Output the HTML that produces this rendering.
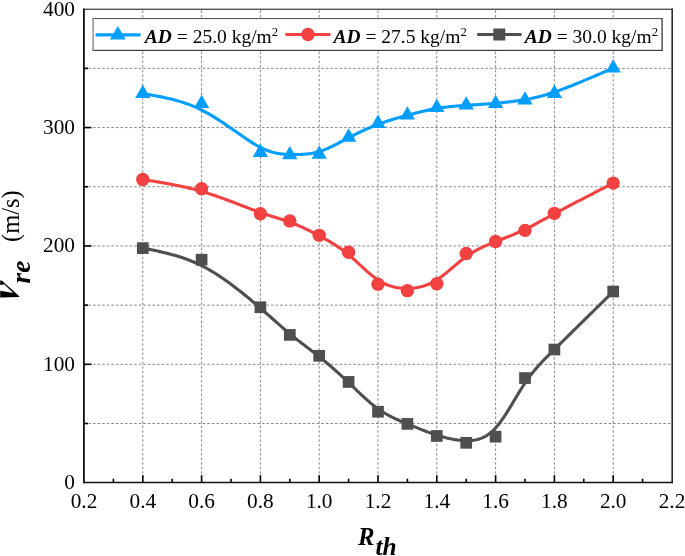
<!DOCTYPE html>
<html><head><meta charset="utf-8"><style>
html,body{margin:0;padding:0;background:#fff;}
body{width:685px;height:556px;overflow:hidden;}
svg{display:block;font-family:"Liberation Serif",serif;}
svg{will-change:transform;}
</style></head><body>
<svg width="685" height="556" viewBox="0 0 685 556">
<line x1="84.0" y1="423.51" x2="672.0" y2="423.51" stroke="#8a8a8a" stroke-width="1" stroke-dasharray="2.6 1.962"/>
<line x1="84.0" y1="364.32" x2="672.0" y2="364.32" stroke="#8a8a8a" stroke-width="1" stroke-dasharray="2.6 1.962"/>
<line x1="84.0" y1="305.13" x2="672.0" y2="305.13" stroke="#8a8a8a" stroke-width="1" stroke-dasharray="2.6 1.962"/>
<line x1="84.0" y1="245.94" x2="672.0" y2="245.94" stroke="#8a8a8a" stroke-width="1" stroke-dasharray="2.6 1.962"/>
<line x1="84.0" y1="186.75" x2="672.0" y2="186.75" stroke="#8a8a8a" stroke-width="1" stroke-dasharray="2.6 1.962"/>
<line x1="84.0" y1="127.56" x2="672.0" y2="127.56" stroke="#8a8a8a" stroke-width="1" stroke-dasharray="2.6 1.962"/>
<line x1="84.0" y1="68.37" x2="672.0" y2="68.37" stroke="#8a8a8a" stroke-width="1" stroke-dasharray="2.6 1.962"/>
<line x1="142.80" y1="9.2" x2="142.80" y2="482.7" stroke="#8a8a8a" stroke-width="1" stroke-dasharray="2.6 1.962" stroke-dashoffset="-1.2"/>
<line x1="201.60" y1="9.2" x2="201.60" y2="482.7" stroke="#8a8a8a" stroke-width="1" stroke-dasharray="2.6 1.962" stroke-dashoffset="-1.2"/>
<line x1="260.40" y1="9.2" x2="260.40" y2="482.7" stroke="#8a8a8a" stroke-width="1" stroke-dasharray="2.6 1.962" stroke-dashoffset="-1.2"/>
<line x1="319.20" y1="9.2" x2="319.20" y2="482.7" stroke="#8a8a8a" stroke-width="1" stroke-dasharray="2.6 1.962" stroke-dashoffset="-1.2"/>
<line x1="378.00" y1="9.2" x2="378.00" y2="482.7" stroke="#8a8a8a" stroke-width="1" stroke-dasharray="2.6 1.962" stroke-dashoffset="-1.2"/>
<line x1="436.80" y1="9.2" x2="436.80" y2="482.7" stroke="#8a8a8a" stroke-width="1" stroke-dasharray="2.6 1.962" stroke-dashoffset="-1.2"/>
<line x1="495.60" y1="9.2" x2="495.60" y2="482.7" stroke="#8a8a8a" stroke-width="1" stroke-dasharray="2.6 1.962" stroke-dashoffset="-1.2"/>
<line x1="554.40" y1="9.2" x2="554.40" y2="482.7" stroke="#8a8a8a" stroke-width="1" stroke-dasharray="2.6 1.962" stroke-dashoffset="-1.2"/>
<line x1="613.20" y1="9.2" x2="613.20" y2="482.7" stroke="#8a8a8a" stroke-width="1" stroke-dasharray="2.6 1.962" stroke-dashoffset="-1.2"/>
<line x1="84.0" y1="423.51" x2="88.0" y2="423.51" stroke="#000" stroke-width="1.6"/>
<line x1="84.0" y1="364.32" x2="91.5" y2="364.32" stroke="#000" stroke-width="1.6"/>
<line x1="84.0" y1="305.13" x2="88.0" y2="305.13" stroke="#000" stroke-width="1.6"/>
<line x1="84.0" y1="245.94" x2="91.5" y2="245.94" stroke="#000" stroke-width="1.6"/>
<line x1="84.0" y1="186.75" x2="88.0" y2="186.75" stroke="#000" stroke-width="1.6"/>
<line x1="84.0" y1="127.56" x2="91.5" y2="127.56" stroke="#000" stroke-width="1.6"/>
<line x1="84.0" y1="68.37" x2="88.0" y2="68.37" stroke="#000" stroke-width="1.6"/>
<line x1="113.40" y1="482.7" x2="113.40" y2="478.7" stroke="#000" stroke-width="1.6"/>
<line x1="142.80" y1="482.7" x2="142.80" y2="475.2" stroke="#000" stroke-width="1.6"/>
<line x1="172.20" y1="482.7" x2="172.20" y2="478.7" stroke="#000" stroke-width="1.6"/>
<line x1="201.60" y1="482.7" x2="201.60" y2="475.2" stroke="#000" stroke-width="1.6"/>
<line x1="231.00" y1="482.7" x2="231.00" y2="478.7" stroke="#000" stroke-width="1.6"/>
<line x1="260.40" y1="482.7" x2="260.40" y2="475.2" stroke="#000" stroke-width="1.6"/>
<line x1="289.80" y1="482.7" x2="289.80" y2="478.7" stroke="#000" stroke-width="1.6"/>
<line x1="319.20" y1="482.7" x2="319.20" y2="475.2" stroke="#000" stroke-width="1.6"/>
<line x1="348.60" y1="482.7" x2="348.60" y2="478.7" stroke="#000" stroke-width="1.6"/>
<line x1="378.00" y1="482.7" x2="378.00" y2="475.2" stroke="#000" stroke-width="1.6"/>
<line x1="407.40" y1="482.7" x2="407.40" y2="478.7" stroke="#000" stroke-width="1.6"/>
<line x1="436.80" y1="482.7" x2="436.80" y2="475.2" stroke="#000" stroke-width="1.6"/>
<line x1="466.20" y1="482.7" x2="466.20" y2="478.7" stroke="#000" stroke-width="1.6"/>
<line x1="495.60" y1="482.7" x2="495.60" y2="475.2" stroke="#000" stroke-width="1.6"/>
<line x1="525.00" y1="482.7" x2="525.00" y2="478.7" stroke="#000" stroke-width="1.6"/>
<line x1="554.40" y1="482.7" x2="554.40" y2="475.2" stroke="#000" stroke-width="1.6"/>
<line x1="583.80" y1="482.7" x2="583.80" y2="478.7" stroke="#000" stroke-width="1.6"/>
<line x1="613.20" y1="482.7" x2="613.20" y2="475.2" stroke="#000" stroke-width="1.6"/>
<line x1="642.60" y1="482.7" x2="642.60" y2="478.7" stroke="#000" stroke-width="1.6"/>
<path d="M142.80,93.58 L145.25,93.99 L147.70,94.41 L150.15,94.83 L152.60,95.26 L155.05,95.71 L157.50,96.16 L159.95,96.64 L162.40,97.13 L164.85,97.65 L167.30,98.19 L169.75,98.76 L172.20,99.36 L174.65,99.99 L177.10,100.66 L179.55,101.37 L182.00,102.13 L184.45,102.92 L186.90,103.77 L189.35,104.67 L191.80,105.62 L194.25,106.62 L196.70,107.69 L199.15,108.82 L201.60,110.01 L204.05,111.27 L206.50,112.59 L208.94,113.97 L211.38,115.39 L213.81,116.86 L216.22,118.37 L218.63,119.90 L221.02,121.46 L223.39,123.04 L225.75,124.63 L228.08,126.23 L230.39,127.83 L232.67,129.42 L234.93,131.00 L237.15,132.55 L239.35,134.09 L241.51,135.59 L243.63,137.05 L245.72,138.48 L247.76,139.85 L249.77,141.16 L251.73,142.42 L253.64,143.60 L255.50,144.71 L257.31,145.74 L259.08,146.70 L260.79,147.58 L262.46,148.39 L264.09,149.13 L265.68,149.80 L267.23,150.42 L268.75,150.97 L270.23,151.47 L271.68,151.92 L273.10,152.31 L274.49,152.67 L275.85,152.97 L277.20,153.24 L278.52,153.47 L279.82,153.67 L281.10,153.84 L282.37,153.98 L283.63,154.10 L284.88,154.19 L286.12,154.27 L287.35,154.33 L288.57,154.38 L289.80,154.43 L291.02,154.46 L292.25,154.49 L293.47,154.52 L294.70,154.53 L295.93,154.54 L297.15,154.53 L298.38,154.52 L299.60,154.49 L300.82,154.45 L302.05,154.39 L303.27,154.32 L304.50,154.23 L305.73,154.13 L306.95,154.01 L308.18,153.87 L309.40,153.71 L310.62,153.53 L311.85,153.32 L313.08,153.10 L314.30,152.85 L315.52,152.57 L316.75,152.27 L317.97,151.94 L319.20,151.59 L320.43,151.21 L321.65,150.80 L322.88,150.36 L324.10,149.90 L325.32,149.41 L326.55,148.91 L327.78,148.38 L329.00,147.84 L330.23,147.28 L331.45,146.70 L332.68,146.11 L333.90,145.50 L335.13,144.89 L336.35,144.26 L337.58,143.63 L338.80,142.99 L340.03,142.34 L341.25,141.69 L342.48,141.03 L343.70,140.38 L344.93,139.73 L346.15,139.07 L347.38,138.42 L348.60,137.78 L349.83,137.14 L351.05,136.50 L352.27,135.88 L353.50,135.25 L354.73,134.64 L355.95,134.03 L357.18,133.43 L358.40,132.84 L359.62,132.25 L360.85,131.67 L362.07,131.10 L363.30,130.53 L364.53,129.97 L365.75,129.42 L366.98,128.88 L368.20,128.35 L369.43,127.82 L370.65,127.30 L371.88,126.79 L373.10,126.29 L374.33,125.80 L375.55,125.32 L376.78,124.84 L378.00,124.38 L379.23,123.92 L380.45,123.47 L381.67,123.04 L382.90,122.61 L384.13,122.18 L385.35,121.77 L386.57,121.36 L387.80,120.96 L389.03,120.57 L390.25,120.18 L391.48,119.80 L392.70,119.42 L393.93,119.05 L395.15,118.69 L396.38,118.33 L397.60,117.97 L398.82,117.62 L400.05,117.27 L401.28,116.93 L402.50,116.59 L403.73,116.25 L404.95,115.92 L406.18,115.58 L407.40,115.25 L408.63,114.92 L409.85,114.60 L411.08,114.27 L412.30,113.95 L413.53,113.63 L414.75,113.31 L415.97,113.00 L417.20,112.69 L418.43,112.38 L419.65,112.08 L420.88,111.79 L422.10,111.49 L423.33,111.21 L424.55,110.93 L425.77,110.65 L427.00,110.38 L428.22,110.12 L429.45,109.86 L430.68,109.61 L431.90,109.37 L433.12,109.13 L434.35,108.91 L435.58,108.69 L436.80,108.47 L438.03,108.27 L439.25,108.08 L440.48,107.89 L441.70,107.71 L442.93,107.54 L444.15,107.38 L445.38,107.22 L446.60,107.07 L447.82,106.93 L449.05,106.79 L450.28,106.66 L451.50,106.53 L452.72,106.41 L453.95,106.29 L455.18,106.18 L456.40,106.07 L457.62,105.97 L458.85,105.86 L460.08,105.77 L461.30,105.67 L462.52,105.58 L463.75,105.49 L464.97,105.41 L466.20,105.32 L467.43,105.24 L468.65,105.16 L469.87,105.08 L471.10,105.00 L472.32,104.92 L473.55,104.84 L474.78,104.76 L476.00,104.69 L477.23,104.61 L478.45,104.53 L479.68,104.45 L480.90,104.37 L482.12,104.29 L483.35,104.21 L484.57,104.13 L485.80,104.05 L487.03,103.96 L488.25,103.87 L489.48,103.78 L490.70,103.69 L491.92,103.60 L493.15,103.50 L494.38,103.40 L495.60,103.29 L496.83,103.18 L498.05,103.07 L499.27,102.96 L500.50,102.84 L501.73,102.72 L502.95,102.59 L504.18,102.46 L505.40,102.33 L506.62,102.19 L507.85,102.05 L509.08,101.90 L510.30,101.75 L511.53,101.59 L512.75,101.43 L513.98,101.27 L515.20,101.10 L516.43,100.92 L517.65,100.75 L518.88,100.56 L520.10,100.37 L521.33,100.18 L522.55,99.98 L523.77,99.78 L525.00,99.57 L526.23,99.35 L527.45,99.13 L528.68,98.90 L529.92,98.67 L531.17,98.42 L532.43,98.16 L533.70,97.89 L534.98,97.61 L536.28,97.31 L537.60,97.00 L538.95,96.66 L540.31,96.32 L541.70,95.95 L543.12,95.56 L544.57,95.16 L546.05,94.73 L547.57,94.27 L549.12,93.79 L550.71,93.29 L552.34,92.76 L554.01,92.20 L555.72,91.61 L557.49,91.00 L559.30,90.35 L561.24,89.64 L563.24,88.89 L565.29,88.11 L567.39,87.30 L569.53,86.47 L571.72,85.60 L573.95,84.71 L576.21,83.80 L578.51,82.86 L580.85,81.90 L583.22,80.92 L585.61,79.92 L588.04,78.90 L590.48,77.87 L592.95,76.83 L595.44,75.77 L597.95,74.70 L600.47,73.63 L603.00,72.54 L605.54,71.45 L608.09,70.36 L610.64,69.26 L613.20,68.16" fill="none" stroke="#009eff" stroke-width="3.1" stroke-linejoin="round" stroke-linecap="round"/>
<path d="M142.80,179.53 L145.25,179.92 L147.70,180.30 L150.15,180.69 L152.60,181.08 L155.05,181.48 L157.50,181.88 L159.95,182.29 L162.40,182.70 L164.85,183.13 L167.30,183.56 L169.75,184.01 L172.20,184.47 L174.65,184.94 L177.10,185.43 L179.55,185.93 L182.00,186.46 L184.45,186.99 L186.90,187.55 L189.35,188.13 L191.80,188.73 L194.25,189.36 L196.70,190.00 L199.15,190.68 L201.60,191.37 L204.05,192.10 L206.50,192.85 L208.94,193.62 L211.38,194.41 L213.81,195.22 L216.22,196.05 L218.63,196.89 L221.02,197.74 L223.39,198.59 L225.75,199.45 L228.08,200.32 L230.39,201.18 L232.67,202.05 L234.93,202.91 L237.15,203.76 L239.35,204.61 L241.51,205.44 L243.63,206.26 L245.72,207.06 L247.76,207.84 L249.77,208.61 L251.73,209.35 L253.64,210.06 L255.50,210.74 L257.31,211.40 L259.08,212.02 L260.79,212.62 L262.46,213.20 L264.09,213.75 L265.68,214.27 L267.23,214.78 L268.75,215.27 L270.23,215.75 L271.68,216.20 L273.10,216.65 L274.49,217.09 L275.85,217.51 L277.20,217.93 L278.52,218.34 L279.82,218.75 L281.10,219.16 L282.37,219.57 L283.63,219.98 L284.88,220.39 L286.12,220.81 L287.35,221.23 L288.57,221.67 L289.80,222.11 L291.02,222.57 L292.25,223.04 L293.47,223.52 L294.70,224.01 L295.93,224.52 L297.15,225.03 L298.38,225.56 L299.60,226.09 L300.82,226.64 L302.05,227.19 L303.27,227.75 L304.50,228.33 L305.73,228.91 L306.95,229.49 L308.18,230.09 L309.40,230.69 L310.62,231.31 L311.85,231.92 L313.08,232.55 L314.30,233.18 L315.52,233.81 L316.75,234.45 L317.97,235.10 L319.20,235.75 L320.43,236.40 L321.65,237.06 L322.88,237.73 L324.10,238.40 L325.32,239.09 L326.55,239.78 L327.78,240.48 L329.00,241.19 L330.23,241.91 L331.45,242.64 L332.68,243.39 L333.90,244.15 L335.13,244.93 L336.35,245.72 L337.58,246.54 L338.80,247.36 L340.03,248.21 L341.25,249.08 L342.48,249.97 L343.70,250.87 L344.93,251.81 L346.15,252.76 L347.38,253.74 L348.60,254.75 L349.83,255.78 L351.05,256.83 L352.27,257.90 L353.50,258.99 L354.73,260.10 L355.95,261.21 L357.18,262.34 L358.40,263.47 L359.62,264.60 L360.85,265.73 L362.07,266.86 L363.30,267.99 L364.53,269.10 L365.75,270.20 L366.98,271.29 L368.20,272.36 L369.43,273.41 L370.65,274.44 L371.88,275.43 L373.10,276.40 L374.33,277.34 L375.55,278.24 L376.78,279.11 L378.00,279.93 L379.23,280.71 L380.45,281.44 L381.67,282.14 L382.90,282.79 L384.13,283.40 L385.35,283.97 L386.57,284.50 L387.80,284.99 L389.03,285.45 L390.25,285.87 L391.48,286.26 L392.70,286.61 L393.93,286.92 L395.15,287.21 L396.38,287.46 L397.60,287.68 L398.82,287.87 L400.05,288.03 L401.28,288.16 L402.50,288.26 L403.73,288.34 L404.95,288.39 L406.18,288.42 L407.40,288.42 L408.63,288.40 L409.85,288.35 L411.08,288.28 L412.30,288.19 L413.53,288.06 L414.75,287.92 L415.97,287.74 L417.20,287.53 L418.43,287.30 L419.65,287.04 L420.88,286.74 L422.10,286.42 L423.33,286.06 L424.55,285.67 L425.77,285.25 L427.00,284.79 L428.22,284.30 L429.45,283.77 L430.68,283.21 L431.90,282.61 L433.12,281.97 L434.35,281.30 L435.58,280.58 L436.80,279.83 L438.03,279.04 L439.25,278.21 L440.48,277.34 L441.70,276.45 L442.93,275.52 L444.15,274.57 L445.38,273.60 L446.60,272.61 L447.82,271.60 L449.05,270.58 L450.28,269.55 L451.50,268.51 L452.72,267.47 L453.95,266.42 L455.18,265.38 L456.40,264.34 L457.62,263.31 L458.85,262.29 L460.08,261.29 L461.30,260.29 L462.52,259.32 L463.75,258.38 L464.97,257.45 L466.20,256.56 L467.43,255.69 L468.65,254.86 L469.87,254.06 L471.10,253.28 L472.32,252.53 L473.55,251.80 L474.78,251.10 L476.00,250.42 L477.23,249.77 L478.45,249.13 L479.68,248.51 L480.90,247.91 L482.12,247.33 L483.35,246.76 L484.57,246.20 L485.80,245.66 L487.03,245.13 L488.25,244.61 L489.48,244.10 L490.70,243.60 L491.92,243.10 L493.15,242.61 L494.38,242.13 L495.60,241.64 L496.83,241.16 L498.05,240.68 L499.27,240.20 L500.50,239.72 L501.73,239.24 L502.95,238.76 L504.18,238.27 L505.40,237.79 L506.62,237.30 L507.85,236.81 L509.08,236.32 L510.30,235.82 L511.53,235.32 L512.75,234.82 L513.98,234.31 L515.20,233.79 L516.43,233.27 L517.65,232.74 L518.88,232.20 L520.10,231.65 L521.33,231.10 L522.55,230.54 L523.77,229.97 L525.00,229.38 L526.23,228.79 L527.45,228.19 L528.68,227.58 L529.92,226.95 L531.17,226.31 L532.43,225.66 L533.70,225.00 L534.98,224.32 L536.28,223.63 L537.60,222.92 L538.95,222.20 L540.31,221.46 L541.70,220.70 L543.12,219.93 L544.57,219.14 L546.05,218.33 L547.57,217.50 L549.12,216.65 L550.71,215.79 L552.34,214.90 L554.01,213.99 L555.72,213.06 L557.49,212.11 L559.30,211.14 L561.24,210.10 L563.24,209.03 L565.29,207.95 L567.39,206.84 L569.53,205.71 L571.72,204.56 L573.95,203.39 L576.21,202.21 L578.51,201.00 L580.85,199.79 L583.22,198.56 L585.61,197.31 L588.04,196.06 L590.48,194.79 L592.95,193.51 L595.44,192.23 L597.95,190.93 L600.47,189.64 L603.00,188.33 L605.54,187.02 L608.09,185.71 L610.64,184.39 L613.20,183.08" fill="none" stroke="#f14141" stroke-width="3.1" stroke-linejoin="round" stroke-linecap="round"/>
<path d="M142.80,248.10 L145.25,248.59 L147.70,249.07 L150.15,249.56 L152.60,250.06 L155.05,250.57 L157.50,251.09 L159.95,251.63 L162.40,252.19 L164.85,252.77 L167.30,253.37 L169.75,253.99 L172.20,254.65 L174.65,255.33 L177.10,256.05 L179.55,256.81 L182.00,257.60 L184.45,258.44 L186.90,259.32 L189.35,260.25 L191.80,261.23 L194.25,262.26 L196.70,263.34 L199.15,264.48 L201.60,265.68 L204.05,266.94 L206.50,268.26 L208.94,269.64 L211.38,271.06 L213.81,272.54 L216.22,274.05 L218.63,275.60 L221.02,277.19 L223.39,278.80 L225.75,280.44 L228.08,282.11 L230.39,283.79 L232.67,285.49 L234.93,287.19 L237.15,288.90 L239.35,290.62 L241.51,292.33 L243.63,294.03 L245.72,295.73 L247.76,297.41 L249.77,299.07 L251.73,300.71 L253.64,302.33 L255.50,303.91 L257.31,305.46 L259.08,306.97 L260.79,308.46 L262.46,309.91 L264.09,311.33 L265.68,312.72 L267.23,314.08 L268.75,315.42 L270.23,316.73 L271.68,318.01 L273.10,319.27 L274.49,320.50 L275.85,321.71 L277.20,322.90 L278.52,324.06 L279.82,325.21 L281.10,326.33 L282.37,327.44 L283.63,328.53 L284.88,329.61 L286.12,330.67 L287.35,331.71 L288.57,332.74 L289.80,333.76 L291.02,334.77 L292.25,335.76 L293.47,336.75 L294.70,337.73 L295.93,338.70 L297.15,339.66 L298.38,340.61 L299.60,341.56 L300.82,342.50 L302.05,343.44 L303.27,344.38 L304.50,345.32 L305.73,346.25 L306.95,347.18 L308.18,348.12 L309.40,349.05 L310.62,349.99 L311.85,350.93 L313.08,351.87 L314.30,352.82 L315.52,353.77 L316.75,354.74 L317.97,355.70 L319.20,356.68 L320.43,357.66 L321.65,358.66 L322.88,359.66 L324.10,360.67 L325.32,361.69 L326.55,362.72 L327.78,363.76 L329.00,364.80 L330.23,365.85 L331.45,366.92 L332.68,367.98 L333.90,369.06 L335.13,370.15 L336.35,371.24 L337.58,372.34 L338.80,373.44 L340.03,374.56 L341.25,375.68 L342.48,376.81 L343.70,377.94 L344.93,379.09 L346.15,380.23 L347.38,381.39 L348.60,382.55 L349.83,383.72 L351.05,384.89 L352.27,386.07 L353.50,387.25 L354.73,388.42 L355.95,389.60 L357.18,390.78 L358.40,391.94 L359.62,393.11 L360.85,394.26 L362.07,395.41 L363.30,396.55 L364.53,397.67 L365.75,398.78 L366.98,399.88 L368.20,400.96 L369.43,402.02 L370.65,403.06 L371.88,404.08 L373.10,405.07 L374.33,406.04 L375.55,406.99 L376.78,407.91 L378.00,408.80 L379.23,409.66 L380.45,410.49 L381.67,411.29 L382.90,412.07 L384.13,412.81 L385.35,413.54 L386.57,414.24 L387.80,414.92 L389.03,415.58 L390.25,416.22 L391.48,416.85 L392.70,417.45 L393.93,418.05 L395.15,418.62 L396.38,419.19 L397.60,419.74 L398.82,420.28 L400.05,420.81 L401.28,421.34 L402.50,421.86 L403.73,422.37 L404.95,422.88 L406.18,423.39 L407.40,423.89 L408.63,424.40 L409.85,424.90 L411.08,425.41 L412.30,425.91 L413.53,426.41 L414.75,426.91 L415.97,427.40 L417.20,427.89 L418.43,428.38 L419.65,428.87 L420.88,429.35 L422.10,429.83 L423.33,430.31 L424.55,430.77 L425.77,431.24 L427.00,431.69 L428.22,432.15 L429.45,432.59 L430.68,433.03 L431.90,433.46 L433.12,433.88 L434.35,434.30 L435.58,434.71 L436.80,435.11 L438.03,435.49 L439.25,435.87 L440.48,436.24 L441.70,436.60 L442.93,436.95 L444.15,437.29 L445.38,437.61 L446.60,437.92 L447.82,438.22 L449.05,438.50 L450.28,438.77 L451.50,439.02 L452.72,439.26 L453.95,439.48 L455.18,439.68 L456.40,439.87 L457.62,440.04 L458.85,440.19 L460.08,440.32 L461.30,440.43 L462.52,440.52 L463.75,440.59 L464.97,440.64 L466.20,440.66 L467.43,440.66 L468.65,440.64 L469.87,440.59 L471.10,440.51 L472.32,440.39 L473.55,440.24 L474.78,440.05 L476.00,439.81 L477.23,439.53 L478.45,439.20 L479.68,438.82 L480.90,438.39 L482.12,437.90 L483.35,437.35 L484.57,436.74 L485.80,436.06 L487.03,435.31 L488.25,434.49 L489.48,433.60 L490.70,432.63 L491.92,431.58 L493.15,430.45 L494.38,429.24 L495.60,427.93 L496.83,426.54 L498.05,425.06 L499.27,423.50 L500.50,421.87 L501.73,420.17 L502.95,418.41 L504.18,416.59 L505.40,414.73 L506.62,412.82 L507.85,410.87 L509.08,408.90 L510.30,406.89 L511.53,404.87 L512.75,402.84 L513.98,400.80 L515.20,398.75 L516.43,396.71 L517.65,394.68 L518.88,392.67 L520.10,390.68 L521.33,388.72 L522.55,386.79 L523.77,384.90 L525.00,383.06 L526.23,381.27 L527.45,379.53 L528.68,377.83 L529.92,376.18 L531.17,374.55 L532.43,372.96 L533.70,371.39 L534.98,369.85 L536.28,368.32 L537.60,366.81 L538.95,365.30 L540.31,363.80 L541.70,362.31 L543.12,360.80 L544.57,359.29 L546.05,357.77 L547.57,356.23 L549.12,354.67 L550.71,353.08 L552.34,351.47 L554.01,349.82 L555.72,348.13 L557.49,346.40 L559.30,344.62 L561.24,342.71 L563.24,340.75 L565.29,338.73 L567.39,336.67 L569.53,334.56 L571.72,332.41 L573.95,330.22 L576.21,327.99 L578.51,325.72 L580.85,323.42 L583.22,321.08 L585.61,318.72 L588.04,316.33 L590.48,313.92 L592.95,311.48 L595.44,309.02 L597.95,306.55 L600.47,304.06 L603.00,301.56 L605.54,299.06 L608.09,296.54 L610.64,294.02 L613.20,291.50" fill="none" stroke="#4f4f4f" stroke-width="3.1" stroke-linejoin="round" stroke-linecap="round"/>
<path d="M142.80,84.71 L150.45,98.01 L135.15,98.01 Z" fill="#009eff"/>
<path d="M201.60,94.64 L209.25,107.94 L193.95,107.94 Z" fill="#009eff"/>
<path d="M260.40,143.59 L268.05,156.89 L252.75,156.89 Z" fill="#009eff"/>
<path d="M289.80,146.07 L297.45,159.37 L282.15,159.37 Z" fill="#009eff"/>
<path d="M319.20,145.48 L326.85,158.78 L311.55,158.78 Z" fill="#009eff"/>
<path d="M348.60,128.34 L356.25,141.64 L340.95,141.64 Z" fill="#009eff"/>
<path d="M378.00,114.62 L385.65,127.92 L370.35,127.92 Z" fill="#009eff"/>
<path d="M407.40,106.23 L415.05,119.53 L399.75,119.53 Z" fill="#009eff"/>
<path d="M436.80,98.78 L444.45,112.08 L429.15,112.08 Z" fill="#009eff"/>
<path d="M466.20,96.30 L473.85,109.60 L458.55,109.60 Z" fill="#009eff"/>
<path d="M495.60,94.76 L503.25,108.06 L487.95,108.06 Z" fill="#009eff"/>
<path d="M525.00,91.21 L532.65,104.51 L517.35,104.51 Z" fill="#009eff"/>
<path d="M554.40,84.59 L562.05,97.89 L546.75,97.89 Z" fill="#009eff"/>
<path d="M613.20,59.29 L620.85,72.59 L605.55,72.59 Z" fill="#009eff"/>
<circle cx="142.80" cy="179.53" r="6.7" fill="#f14141"/>
<circle cx="201.60" cy="188.75" r="6.7" fill="#f14141"/>
<circle cx="260.40" cy="213.70" r="6.7" fill="#f14141"/>
<circle cx="289.80" cy="220.91" r="6.7" fill="#f14141"/>
<circle cx="319.20" cy="235.34" r="6.7" fill="#f14141"/>
<circle cx="348.60" cy="252.24" r="6.7" fill="#f14141"/>
<circle cx="378.00" cy="284.16" r="6.7" fill="#f14141"/>
<circle cx="407.40" cy="290.67" r="6.7" fill="#f14141"/>
<circle cx="436.80" cy="283.69" r="6.7" fill="#f14141"/>
<circle cx="466.20" cy="253.54" r="6.7" fill="#f14141"/>
<circle cx="495.60" cy="241.48" r="6.7" fill="#f14141"/>
<circle cx="525.00" cy="230.37" r="6.7" fill="#f14141"/>
<circle cx="554.40" cy="213.34" r="6.7" fill="#f14141"/>
<circle cx="613.20" cy="183.08" r="6.7" fill="#f14141"/>
<rect x="136.95" y="242.25" width="11.7" height="11.7" fill="#4f4f4f"/>
<rect x="195.75" y="253.84" width="11.7" height="11.7" fill="#4f4f4f"/>
<rect x="254.55" y="301.37" width="11.7" height="11.7" fill="#4f4f4f"/>
<rect x="283.95" y="329.04" width="11.7" height="11.7" fill="#4f4f4f"/>
<rect x="313.35" y="349.96" width="11.7" height="11.7" fill="#4f4f4f"/>
<rect x="342.75" y="376.09" width="11.7" height="11.7" fill="#4f4f4f"/>
<rect x="372.15" y="405.88" width="11.7" height="11.7" fill="#4f4f4f"/>
<rect x="401.55" y="418.06" width="11.7" height="11.7" fill="#4f4f4f"/>
<rect x="430.95" y="430.12" width="11.7" height="11.7" fill="#4f4f4f"/>
<rect x="460.35" y="436.98" width="11.7" height="11.7" fill="#4f4f4f"/>
<rect x="489.75" y="430.83" width="11.7" height="11.7" fill="#4f4f4f"/>
<rect x="519.15" y="372.19" width="11.7" height="11.7" fill="#4f4f4f"/>
<rect x="548.55" y="343.70" width="11.7" height="11.7" fill="#4f4f4f"/>
<rect x="607.35" y="285.65" width="11.7" height="11.7" fill="#4f4f4f"/>
<rect x="83.0" y="8.6" width="590.0" height="1.35" fill="#4c4c4c"/>
<rect x="83.0" y="8.6" width="1.8" height="474.6" fill="#111"/>
<rect x="671.4" y="8.6" width="1.6" height="474.6" fill="#2a2a2a"/>
<rect x="83.0" y="481.75" width="590.0" height="1.5" fill="#111"/>
<rect x="92.4" y="18.1" width="570.4" height="32.9" fill="#fff"/>
<rect x="92.4" y="18.1" width="570.4" height="1.0" fill="#4a4a4a"/>
<rect x="92.4" y="49.8" width="570.4" height="1.2" fill="#3c3c3c"/>
<rect x="92.4" y="18.1" width="1.4" height="32.9" fill="#8a8a8a"/>
<rect x="661.4" y="18.1" width="1.4" height="32.9" fill="#4a4a4a"/>
<line x1="95.6" y1="34.9" x2="140.6" y2="34.9" stroke="#009eff" stroke-width="3.1"/>
<path d="M117.80,25.90 L125.65,39.40 L109.95,39.40 Z" fill="#009eff"/>
<line x1="285.4" y1="34.5" x2="330.4" y2="34.5" stroke="#f14141" stroke-width="3.1"/>
<circle cx="308.00" cy="34.50" r="6.7" fill="#f14141"/>
<line x1="477.2" y1="34.5" x2="521.6" y2="34.5" stroke="#4f4f4f" stroke-width="3.1"/>
<rect x="493.30" y="28.50" width="12" height="12" fill="#4f4f4f"/>
<text x="144.8" y="42.6" font-size="19.5"><tspan font-weight="bold" font-style="italic">AD</tspan> = 25.0 kg/m<tspan font-size="12.7" dy="-7">2</tspan></text>
<text x="333.5" y="42.6" font-size="19.5"><tspan font-weight="bold" font-style="italic">AD</tspan> = 27.5 kg/m<tspan font-size="12.7" dy="-7">2</tspan></text>
<text x="524.7" y="42.6" font-size="19.5"><tspan font-weight="bold" font-style="italic">AD</tspan> = 30.0 kg/m<tspan font-size="12.7" dy="-7">2</tspan></text>
<text x="84.00" y="508.4" font-size="21.3" text-anchor="middle">0.2</text>
<text x="142.80" y="508.4" font-size="21.3" text-anchor="middle">0.4</text>
<text x="201.60" y="508.4" font-size="21.3" text-anchor="middle">0.6</text>
<text x="260.40" y="508.4" font-size="21.3" text-anchor="middle">0.8</text>
<text x="319.20" y="508.4" font-size="21.3" text-anchor="middle">1.0</text>
<text x="378.00" y="508.4" font-size="21.3" text-anchor="middle">1.2</text>
<text x="436.80" y="508.4" font-size="21.3" text-anchor="middle">1.4</text>
<text x="495.60" y="508.4" font-size="21.3" text-anchor="middle">1.6</text>
<text x="554.40" y="508.4" font-size="21.3" text-anchor="middle">1.8</text>
<text x="613.20" y="508.4" font-size="21.3" text-anchor="middle">2.0</text>
<text x="672.00" y="508.4" font-size="21.3" text-anchor="middle">2.2</text>
<text x="75" y="489.10" font-size="21.3" text-anchor="end">0</text>
<text x="75" y="370.72" font-size="21.3" text-anchor="end">100</text>
<text x="75" y="252.34" font-size="21.3" text-anchor="end">200</text>
<text x="75" y="133.96" font-size="21.3" text-anchor="end">300</text>
<text x="75" y="15.58" font-size="21.3" text-anchor="end">400</text>
<text x="358" y="544.5" font-size="24.7" font-weight="bold" font-style="italic">R<tspan dy="10.2" dx="1.0" font-size="25.5">th</tspan></text>
<path d="M0.2,280.4 L1.7,280.5 L19.4,296.3 L19.2,297.0 L1.7,297.4 L0.2,297.6 L0.2,290.7 L1.7,291.0 L13.2,293.1 L4.2,284.2 L1.7,284.7 L0.2,284.9 Z" fill="#000"/>
<text transform="translate(29.7,283.5) rotate(-90)" font-size="27.4" font-weight="bold" font-style="italic">re</text>
<text transform="translate(18.5,242) rotate(-90)" font-size="24.5">(m/s)</text>
</svg>
</body></html>
